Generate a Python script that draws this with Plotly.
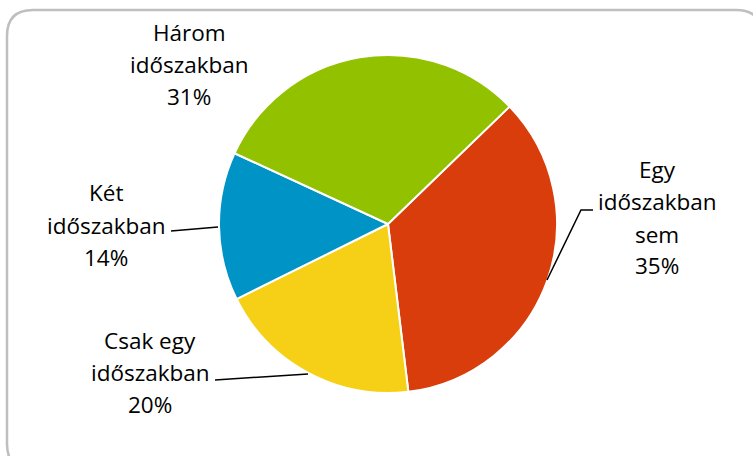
import plotly.graph_objects as go

# ---- data ----
categories = ["Egy időszakban sem", "Csak egy időszakban", "Két időszakban", "Három időszakban"]
values = [35.3, 19.6, 14.2, 30.9]
label_lines = [["Egy", "időszakban", "sem"], ["Csak egy", "időszakban"], ["Két", "időszakban"], ["Három", "időszakban"]]
colors = ["#D83D0B", "#F6D016", "#0094C6", "#92C100"]

W, H = 753, 456


def px(x):
    return x / W


def py(y):
    return 1 - y / H


fig = go.Figure()

cx, cy, r = 388, 224, 169
fig.add_trace(go.Pie(
    labels=categories,
    values=values,
    sort=False,
    direction="clockwise",
    rotation=46,
    marker=dict(colors=colors, line=dict(color="white", width=2)),
    textinfo="none",
    hoverinfo="label+percent",
    showlegend=False,
    domain=dict(x=[px(cx - r), px(cx + r)], y=[py(cy + r), py(cy - r)]),
))

# label positions: (center x, list of line-center y) in pixels
label_pos = [
    (657, [170, 202, 234, 265]),
    (150, [340, 372, 404]),
    (106, [192, 225, 257]),
    (189, [32, 64, 96]),
]
total = sum(values)
font = dict(family="Open Sans", size=22.5, color="#000000")
for lines, v, (lx, ly) in zip(label_lines, values, label_pos):
    texts = lines + [f"{round(v / total * 100)}%"]
    for t, yy in zip(texts, ly):
        fig.add_annotation(x=px(lx), y=py(yy), xref="paper", yref="paper",
                           text=t, showarrow=False, font=font,
                           xanchor="center", yanchor="middle")

# leader lines
leaders = [
    [(593, 210), (581, 210), (547, 280)],
    [(215, 380), (308, 374)],
    [(171, 231), (218, 227)],
]
for pts in leaders:
    path = "M " + " L ".join(f"{px(x)},{py(y)}" for x, y in pts)
    fig.add_shape(type="path", path=path, xref="paper", yref="paper",
                  line=dict(color="black", width=1.5))

# rounded frame
x0, y0, x1, y1, rc = 7, 10, 762, 470, 26
frame = (f"M {px(x0 + rc)},{py(y0)} L {px(x1 - rc)},{py(y0)} "
         f"Q {px(x1)},{py(y0)} {px(x1)},{py(y0 + rc)} "
         f"L {px(x1)},{py(y1 - rc)} Q {px(x1)},{py(y1)} {px(x1 - rc)},{py(y1)} "
         f"L {px(x0 + rc)},{py(y1)} Q {px(x0)},{py(y1)} {px(x0)},{py(y1 - rc)} "
         f"L {px(x0)},{py(y0 + rc)} Q {px(x0)},{py(y0)} {px(x0 + rc)},{py(y0)} Z")
fig.add_shape(type="path", path=frame, xref="paper", yref="paper",
              line=dict(color="#BFBFBF", width=2.5), layer="below")

fig.update_layout(
    width=W, height=H,
    margin=dict(l=0, r=0, t=0, b=0),
    paper_bgcolor="white",
    plot_bgcolor="white",
)

fig.write_html("out.html")
